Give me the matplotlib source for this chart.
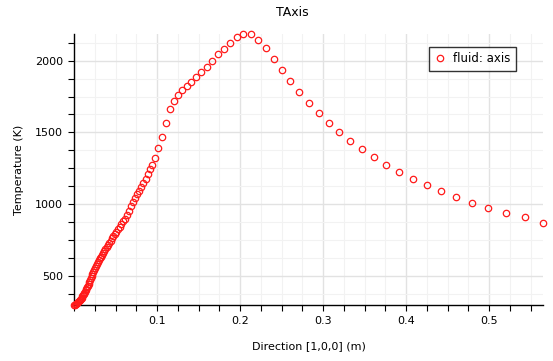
import matplotlib
matplotlib.use('Agg')
import matplotlib.pyplot as plt
from matplotlib.ticker import MultipleLocator

# data
direction = [0.0004, 0.0012, 0.0020, 0.0028, 0.0036, 0.0044, 0.0052, 0.0060, 0.0068, 0.0076,
             0.0084, 0.0092, 0.0100, 0.0108, 0.0116, 0.0124, 0.0132, 0.0140, 0.0148, 0.0157,
             0.0166, 0.0175, 0.0184, 0.0193, 0.0202, 0.0212, 0.0222, 0.0232, 0.0242, 0.0253,
             0.0264, 0.0275, 0.0287, 0.0299, 0.0311, 0.0324, 0.0337, 0.0350, 0.0364, 0.0378,
             0.0393, 0.0408, 0.0424, 0.0440, 0.0457, 0.0474, 0.0492, 0.0511, 0.0530, 0.0550,
             0.0571, 0.0593, 0.0615, 0.0638, 0.0660, 0.0685, 0.0710, 0.0735, 0.0760, 0.0785,
             0.0810, 0.0836, 0.0863, 0.0890, 0.0917, 0.0944, 0.0980, 0.1012, 0.1058, 0.1106,
             0.1154, 0.1206, 0.1256, 0.1305, 0.1358, 0.1412, 0.1469, 0.1532, 0.1601, 0.1665,
             0.1737, 0.1805, 0.1881, 0.1965, 0.2034, 0.2130, 0.2214, 0.2314, 0.2410, 0.2506,
             0.2602, 0.2707, 0.2831, 0.2951, 0.3071, 0.3191, 0.3323, 0.3464, 0.3612, 0.3756,
             0.3909, 0.4077, 0.4245, 0.4425, 0.4606, 0.4798, 0.4990, 0.5207, 0.5427, 0.5647]
temperature = [298, 300, 303, 307, 311, 316, 321, 326, 331, 336,
               342, 350, 358, 366, 374, 382, 391, 400, 410, 421,
               433, 446, 460, 474, 488, 502, 516, 530, 544, 558,
               571, 584, 598, 611, 623, 636, 648, 660, 673, 687,
               701, 716, 731, 746, 762, 777, 793, 810, 826, 843,
               861, 880, 900, 922, 955, 985, 1015, 1043, 1070, 1095,
               1120, 1147, 1178, 1210, 1242, 1274, 1325, 1394, 1471, 1568,
               1664, 1719, 1761, 1796, 1826, 1854, 1889, 1923, 1958, 2000,
               2047, 2084, 2125, 2167, 2188, 2188, 2146, 2091, 2014, 1937,
               1861, 1784, 1708, 1638, 1568, 1503, 1443, 1387, 1331, 1276,
               1225, 1178, 1137, 1095, 1053, 1011, 976, 942, 914, 872]

plt.rcParams['font.family'] = ['DejaVu Sans']

fig = plt.figure(figsize=(5.53, 3.61), dpi=100)
ax = fig.add_axes([0.1338, 0.155, 0.848, 0.751])

ax.plot(direction, temperature, linestyle='none', marker='o', markersize=4.6,
        markerfacecolor='none', markeredgecolor='#ff1a1a', markeredgewidth=0.9,
        label='fluid: axis', clip_on=False, zorder=3)

ax.set_xlim(0, 0.5647)
ax.set_ylim(298, 2186)

ax.xaxis.set_major_locator(MultipleLocator(0.1))
ax.xaxis.set_minor_locator(MultipleLocator(0.025))
ax.yaxis.set_major_locator(MultipleLocator(500))
ax.yaxis.set_minor_locator(MultipleLocator(125))
ax.set_xticks([0.1, 0.2, 0.3, 0.4, 0.5])
ax.set_xticklabels(['0.1', '0.2', '0.3', '0.4', '0.5'])

ax.grid(which='major', color='#e2e2e2', linewidth=1.0)
ax.grid(which='minor', color='#f2f2f2', linewidth=0.8)
ax.set_axisbelow(True)

for s in ['top', 'right']:
    ax.spines[s].set_visible(False)
for s in ['left', 'bottom']:
    ax.spines[s].set_color('black')
    ax.spines[s].set_linewidth(1.0)

ax.tick_params(which='both', direction='out', length=4, width=0.8, color='black',
               labelsize=8, pad=4)

ax.set_xlabel('Direction [1,0,0] (m)', fontsize=8, labelpad=11)
ax.set_ylabel('Temperature (K)', fontsize=8, labelpad=8)
fig.text(0.528, 0.964, 'TAxis', fontsize=9, ha='center', va='center')

# legend box: black square frame, upper right inside the axes
leg = ax.legend(loc='upper right', bbox_to_anchor=(0.9424, 0.952), borderaxespad=0,
                fontsize=8.5, frameon=True, fancybox=False, handlelength=1.0,
                handletextpad=0.6, borderpad=0.45, markerscale=1.0)
leg.get_frame().set_edgecolor('black')
leg.get_frame().set_linewidth(1.0)

fig.savefig('out.png', dpi=100)
